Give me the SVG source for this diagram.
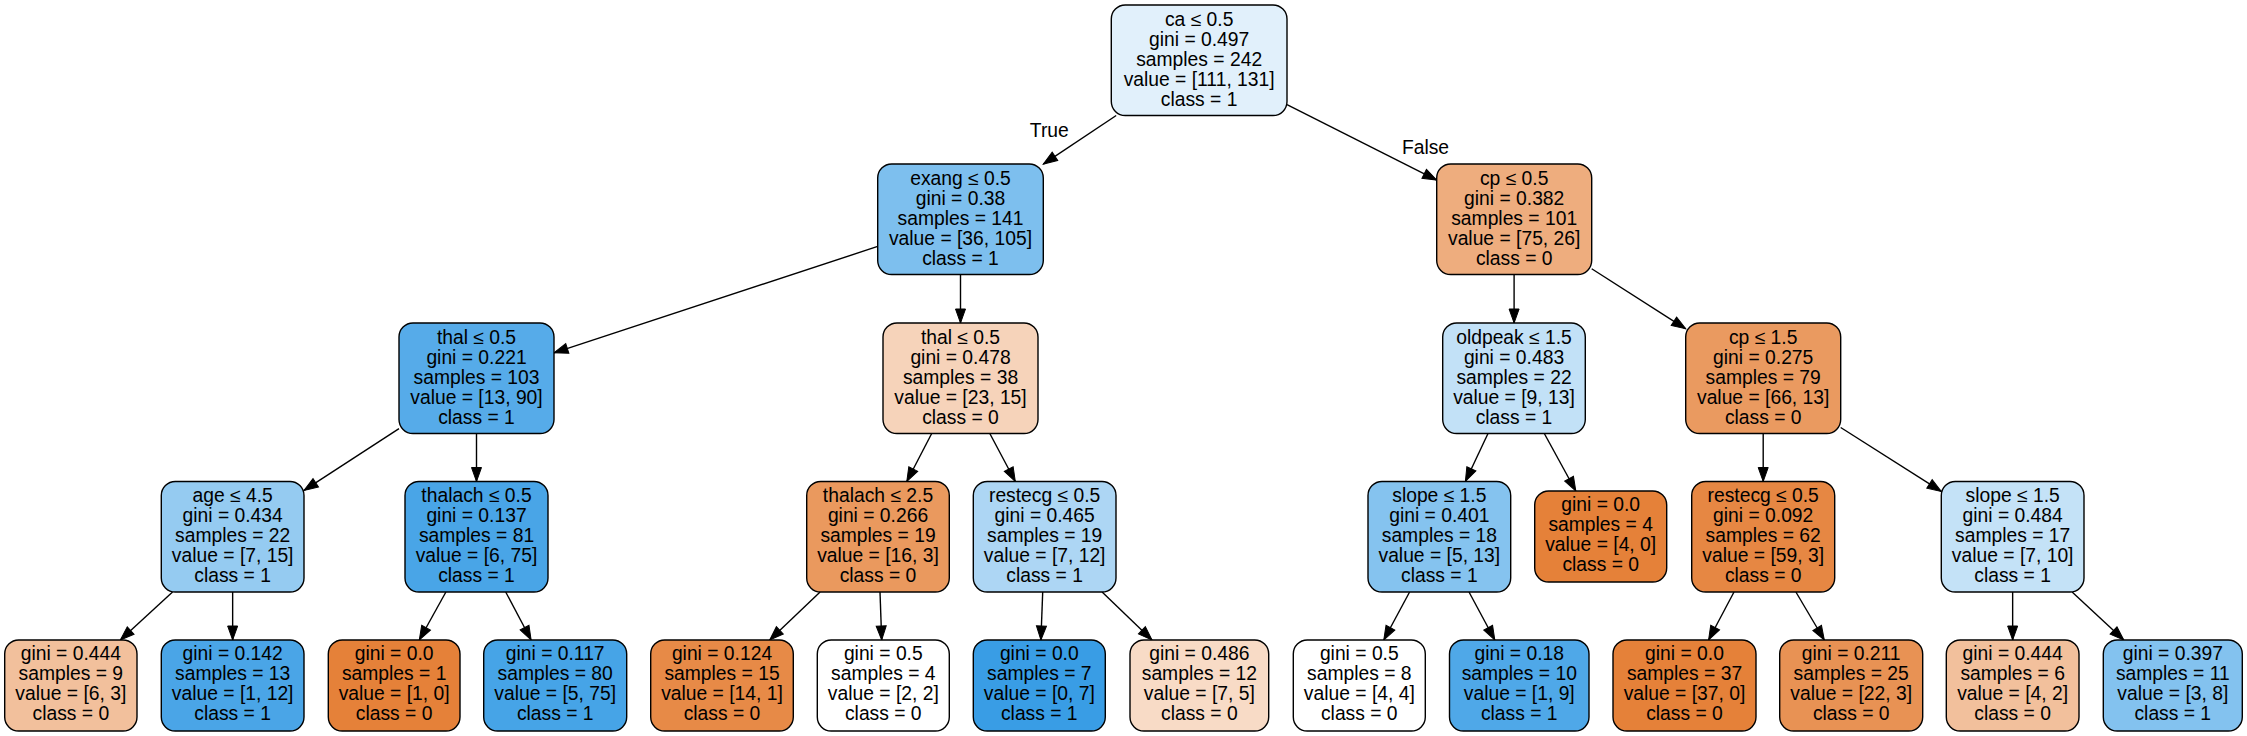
<svg xmlns="http://www.w3.org/2000/svg" width="2247" height="736" viewBox="0 0 2247 736">
<style>
rect.b{stroke:#000;stroke-width:1.4}
text{font-family:"Liberation Sans",Arial,Helvetica,sans-serif;font-size:19.3px;text-anchor:middle;fill:#000}
#edges line{stroke:#000;stroke-width:1.4;marker-end:url(#ah)}
</style>
<defs>
<marker id="ah" markerUnits="userSpaceOnUse" markerWidth="18" markerHeight="14" refX="14" refY="5" orient="auto" overflow="visible">
<path d="M0,0 L14,5 L0,10 z" fill="#000" stroke="#000" stroke-width="1"/>
</marker>
</defs>
<rect width="2247" height="736" fill="#fff"/>
<g id="edges">
<line x1="1116.2" y1="115.5" x2="1043.3" y2="164.1"/>
<line x1="1287" y1="104.6" x2="1436.7" y2="180.1"/>
<line x1="877.7" y1="246.45" x2="554" y2="352.8"/>
<line x1="960.5" y1="274.75" x2="960.5" y2="323"/>
<line x1="1514.1" y1="274.75" x2="1514.1" y2="323"/>
<line x1="1591.7" y1="268.75" x2="1685.7" y2="328.8"/>
<line x1="399" y1="428.6" x2="304" y2="490.4"/>
<line x1="476.5" y1="433.5" x2="476.5" y2="481.5"/>
<line x1="931.7" y1="433.5" x2="906.8" y2="481.5"/>
<line x1="989.8" y1="433.5" x2="1015.3" y2="481.5"/>
<line x1="1488" y1="433.5" x2="1465.4" y2="481.5"/>
<line x1="1544.3" y1="433.5" x2="1575.8" y2="491"/>
<line x1="1763.2" y1="433.5" x2="1763.2" y2="481.5"/>
<line x1="1840.7" y1="427.5" x2="1941.3" y2="491.4"/>
<line x1="172.55" y1="592" x2="120.35" y2="640"/>
<line x1="232.65" y1="592" x2="232.65" y2="640"/>
<line x1="445.9" y1="592" x2="419.3" y2="640"/>
<line x1="505.7" y1="592" x2="531.1" y2="640"/>
<line x1="820.1" y1="592" x2="769.7" y2="640"/>
<line x1="880" y1="592" x2="881.7" y2="640"/>
<line x1="1042.7" y1="592" x2="1040.9" y2="640"/>
<line x1="1102.1" y1="592" x2="1152" y2="640"/>
<line x1="1409.6" y1="592" x2="1383.8" y2="640"/>
<line x1="1469" y1="592" x2="1494.8" y2="640"/>
<line x1="1734" y1="592" x2="1708.6" y2="640"/>
<line x1="1795.9" y1="592" x2="1824.3" y2="640"/>
<line x1="2012.65" y1="592" x2="2012.65" y2="640"/>
<line x1="2072.1" y1="592" x2="2123.8" y2="640"/>
<text x="1049.3" y="136.5">True</text>
<text x="1425.5" y="154">False</text>
</g>
<g id="node0"><rect class="b" x="1111.3" y="5" width="175.7" height="110.5" rx="14" fill="#e1f0fb"/>
<text x="1199.15" y="25.5"><tspan x="1199.15">ca ≤ 0.5</tspan><tspan x="1199.15" dy="20">gini = 0.497</tspan><tspan x="1199.15" dy="20">samples = 242</tspan><tspan x="1199.15" dy="20">value = [111, 131]</tspan><tspan x="1199.15" dy="20">class = 1</tspan></text></g>
<g id="node1"><rect class="b" x="877.7" y="164" width="165.6" height="110.5" rx="14" fill="#7dbfee"/>
<text x="960.5" y="184.5"><tspan x="960.5">exang ≤ 0.5</tspan><tspan x="960.5" dy="20">gini = 0.38</tspan><tspan x="960.5" dy="20">samples = 141</tspan><tspan x="960.5" dy="20">value = [36, 105]</tspan><tspan x="960.5" dy="20">class = 1</tspan></text></g>
<g id="node2"><rect class="b" x="399" y="323" width="155" height="110.5" rx="14" fill="#56abe9"/>
<text x="476.5" y="343.5"><tspan x="476.5">thal ≤ 0.5</tspan><tspan x="476.5" dy="20">gini = 0.221</tspan><tspan x="476.5" dy="20">samples = 103</tspan><tspan x="476.5" dy="20">value = [13, 90]</tspan><tspan x="476.5" dy="20">class = 1</tspan></text></g>
<g id="node3"><rect class="b" x="161.3" y="481.5" width="142.7" height="110.5" rx="14" fill="#95cbf1"/>
<text x="232.65" y="502"><tspan x="232.65">age ≤ 4.5</tspan><tspan x="232.65" dy="20">gini = 0.434</tspan><tspan x="232.65" dy="20">samples = 22</tspan><tspan x="232.65" dy="20">value = [7, 15]</tspan><tspan x="232.65" dy="20">class = 1</tspan></text></g>
<g id="node4"><rect class="b" x="4.7" y="640" width="132.3" height="91" rx="14" fill="#f2c09c"/>
<text x="70.85" y="660"><tspan x="70.85">gini = 0.444</tspan><tspan x="70.85" dy="20">samples = 9</tspan><tspan x="70.85" dy="20">value = [6, 3]</tspan><tspan x="70.85" dy="20">class = 0</tspan></text></g>
<g id="node5"><rect class="b" x="161.3" y="640" width="142.7" height="91" rx="14" fill="#4aa5e7"/>
<text x="232.65" y="660"><tspan x="232.65">gini = 0.142</tspan><tspan x="232.65" dy="20">samples = 13</tspan><tspan x="232.65" dy="20">value = [1, 12]</tspan><tspan x="232.65" dy="20">class = 1</tspan></text></g>
<g id="node6"><rect class="b" x="405" y="481.5" width="143" height="110.5" rx="14" fill="#49a5e7"/>
<text x="476.5" y="502"><tspan x="476.5">thalach ≤ 0.5</tspan><tspan x="476.5" dy="20">gini = 0.137</tspan><tspan x="476.5" dy="20">samples = 81</tspan><tspan x="476.5" dy="20">value = [6, 75]</tspan><tspan x="476.5" dy="20">class = 1</tspan></text></g>
<g id="node7"><rect class="b" x="328.3" y="640" width="131.7" height="91" rx="14" fill="#e58139"/>
<text x="394.15" y="660"><tspan x="394.15">gini = 0.0</tspan><tspan x="394.15" dy="20">samples = 1</tspan><tspan x="394.15" dy="20">value = [1, 0]</tspan><tspan x="394.15" dy="20">class = 0</tspan></text></g>
<g id="node8"><rect class="b" x="483.7" y="640" width="143" height="91" rx="14" fill="#46a4e7"/>
<text x="555.2" y="660"><tspan x="555.2">gini = 0.117</tspan><tspan x="555.2" dy="20">samples = 80</tspan><tspan x="555.2" dy="20">value = [5, 75]</tspan><tspan x="555.2" dy="20">class = 1</tspan></text></g>
<g id="node9"><rect class="b" x="883" y="323" width="155" height="110.5" rx="14" fill="#f6d3ba"/>
<text x="960.5" y="343.5"><tspan x="960.5">thal ≤ 0.5</tspan><tspan x="960.5" dy="20">gini = 0.478</tspan><tspan x="960.5" dy="20">samples = 38</tspan><tspan x="960.5" dy="20">value = [23, 15]</tspan><tspan x="960.5" dy="20">class = 0</tspan></text></g>
<g id="node10"><rect class="b" x="806.7" y="481.5" width="142.6" height="110.5" rx="14" fill="#ea995e"/>
<text x="878" y="502"><tspan x="878">thalach ≤ 2.5</tspan><tspan x="878" dy="20">gini = 0.266</tspan><tspan x="878" dy="20">samples = 19</tspan><tspan x="878" dy="20">value = [16, 3]</tspan><tspan x="878" dy="20">class = 0</tspan></text></g>
<g id="node11"><rect class="b" x="650.7" y="640" width="142.6" height="91" rx="14" fill="#e78a47"/>
<text x="722" y="660"><tspan x="722">gini = 0.124</tspan><tspan x="722" dy="20">samples = 15</tspan><tspan x="722" dy="20">value = [14, 1]</tspan><tspan x="722" dy="20">class = 0</tspan></text></g>
<g id="node12"><rect class="b" x="817.3" y="640" width="132" height="91" rx="14" fill="#ffffff"/>
<text x="883.3" y="660"><tspan x="883.3">gini = 0.5</tspan><tspan x="883.3" dy="20">samples = 4</tspan><tspan x="883.3" dy="20">value = [2, 2]</tspan><tspan x="883.3" dy="20">class = 0</tspan></text></g>
<g id="node13"><rect class="b" x="973.3" y="481.5" width="142.7" height="110.5" rx="14" fill="#add6f4"/>
<text x="1044.65" y="502"><tspan x="1044.65">restecg ≤ 0.5</tspan><tspan x="1044.65" dy="20">gini = 0.465</tspan><tspan x="1044.65" dy="20">samples = 19</tspan><tspan x="1044.65" dy="20">value = [7, 12]</tspan><tspan x="1044.65" dy="20">class = 1</tspan></text></g>
<g id="node14"><rect class="b" x="973.3" y="640" width="132" height="91" rx="14" fill="#399de5"/>
<text x="1039.3" y="660"><tspan x="1039.3">gini = 0.0</tspan><tspan x="1039.3" dy="20">samples = 7</tspan><tspan x="1039.3" dy="20">value = [0, 7]</tspan><tspan x="1039.3" dy="20">class = 1</tspan></text></g>
<g id="node15"><rect class="b" x="1130" y="640" width="138.7" height="91" rx="14" fill="#f8dbc6"/>
<text x="1199.35" y="660"><tspan x="1199.35">gini = 0.486</tspan><tspan x="1199.35" dy="20">samples = 12</tspan><tspan x="1199.35" dy="20">value = [7, 5]</tspan><tspan x="1199.35" dy="20">class = 0</tspan></text></g>
<g id="node16"><rect class="b" x="1436.7" y="164" width="155" height="110.5" rx="14" fill="#eead7e"/>
<text x="1514.2" y="184.5"><tspan x="1514.2">cp ≤ 0.5</tspan><tspan x="1514.2" dy="20">gini = 0.382</tspan><tspan x="1514.2" dy="20">samples = 101</tspan><tspan x="1514.2" dy="20">value = [75, 26]</tspan><tspan x="1514.2" dy="20">class = 0</tspan></text></g>
<g id="node17"><rect class="b" x="1442.7" y="323" width="142.6" height="110.5" rx="14" fill="#c2e1f7"/>
<text x="1514" y="343.5"><tspan x="1514">oldpeak ≤ 1.5</tspan><tspan x="1514" dy="20">gini = 0.483</tspan><tspan x="1514" dy="20">samples = 22</tspan><tspan x="1514" dy="20">value = [9, 13]</tspan><tspan x="1514" dy="20">class = 1</tspan></text></g>
<g id="node18"><rect class="b" x="1368" y="481.5" width="142.7" height="110.5" rx="14" fill="#85c3ef"/>
<text x="1439.35" y="502"><tspan x="1439.35">slope ≤ 1.5</tspan><tspan x="1439.35" dy="20">gini = 0.401</tspan><tspan x="1439.35" dy="20">samples = 18</tspan><tspan x="1439.35" dy="20">value = [5, 13]</tspan><tspan x="1439.35" dy="20">class = 1</tspan></text></g>
<g id="node19"><rect class="b" x="1293.3" y="640" width="132" height="91" rx="14" fill="#ffffff"/>
<text x="1359.3" y="660"><tspan x="1359.3">gini = 0.5</tspan><tspan x="1359.3" dy="20">samples = 8</tspan><tspan x="1359.3" dy="20">value = [4, 4]</tspan><tspan x="1359.3" dy="20">class = 0</tspan></text></g>
<g id="node20"><rect class="b" x="1449.5" y="640" width="139.5" height="91" rx="14" fill="#4fa8e8"/>
<text x="1519.25" y="660"><tspan x="1519.25">gini = 0.18</tspan><tspan x="1519.25" dy="20">samples = 10</tspan><tspan x="1519.25" dy="20">value = [1, 9]</tspan><tspan x="1519.25" dy="20">class = 1</tspan></text></g>
<g id="node21"><rect class="b" x="1534.7" y="491" width="132" height="91" rx="14" fill="#e58139"/>
<text x="1600.7" y="511"><tspan x="1600.7">gini = 0.0</tspan><tspan x="1600.7" dy="20">samples = 4</tspan><tspan x="1600.7" dy="20">value = [4, 0]</tspan><tspan x="1600.7" dy="20">class = 0</tspan></text></g>
<g id="node22"><rect class="b" x="1685.7" y="323" width="155" height="110.5" rx="14" fill="#ea9a60"/>
<text x="1763.2" y="343.5"><tspan x="1763.2">cp ≤ 1.5</tspan><tspan x="1763.2" dy="20">gini = 0.275</tspan><tspan x="1763.2" dy="20">samples = 79</tspan><tspan x="1763.2" dy="20">value = [66, 13]</tspan><tspan x="1763.2" dy="20">class = 0</tspan></text></g>
<g id="node23"><rect class="b" x="1691.7" y="481.5" width="143" height="110.5" rx="14" fill="#e68743"/>
<text x="1763.2" y="502"><tspan x="1763.2">restecg ≤ 0.5</tspan><tspan x="1763.2" dy="20">gini = 0.092</tspan><tspan x="1763.2" dy="20">samples = 62</tspan><tspan x="1763.2" dy="20">value = [59, 3]</tspan><tspan x="1763.2" dy="20">class = 0</tspan></text></g>
<g id="node24"><rect class="b" x="1613" y="640" width="143" height="91" rx="14" fill="#e58139"/>
<text x="1684.5" y="660"><tspan x="1684.5">gini = 0.0</tspan><tspan x="1684.5" dy="20">samples = 37</tspan><tspan x="1684.5" dy="20">value = [37, 0]</tspan><tspan x="1684.5" dy="20">class = 0</tspan></text></g>
<g id="node25"><rect class="b" x="1779.7" y="640" width="143" height="91" rx="14" fill="#e89254"/>
<text x="1851.2" y="660"><tspan x="1851.2">gini = 0.211</tspan><tspan x="1851.2" dy="20">samples = 25</tspan><tspan x="1851.2" dy="20">value = [22, 3]</tspan><tspan x="1851.2" dy="20">class = 0</tspan></text></g>
<g id="node26"><rect class="b" x="1941.3" y="481.5" width="142.7" height="110.5" rx="14" fill="#c4e2f7"/>
<text x="2012.65" y="502"><tspan x="2012.65">slope ≤ 1.5</tspan><tspan x="2012.65" dy="20">gini = 0.484</tspan><tspan x="2012.65" dy="20">samples = 17</tspan><tspan x="2012.65" dy="20">value = [7, 10]</tspan><tspan x="2012.65" dy="20">class = 1</tspan></text></g>
<g id="node27"><rect class="b" x="1946.3" y="640" width="132.7" height="91" rx="14" fill="#f2c09c"/>
<text x="2012.65" y="660"><tspan x="2012.65">gini = 0.444</tspan><tspan x="2012.65" dy="20">samples = 6</tspan><tspan x="2012.65" dy="20">value = [4, 2]</tspan><tspan x="2012.65" dy="20">class = 0</tspan></text></g>
<g id="node28"><rect class="b" x="2103.3" y="640" width="139" height="91" rx="14" fill="#83c2ef"/>
<text x="2172.8" y="660"><tspan x="2172.8">gini = 0.397</tspan><tspan x="2172.8" dy="20">samples = 11</tspan><tspan x="2172.8" dy="20">value = [3, 8]</tspan><tspan x="2172.8" dy="20">class = 1</tspan></text></g>
</svg>
